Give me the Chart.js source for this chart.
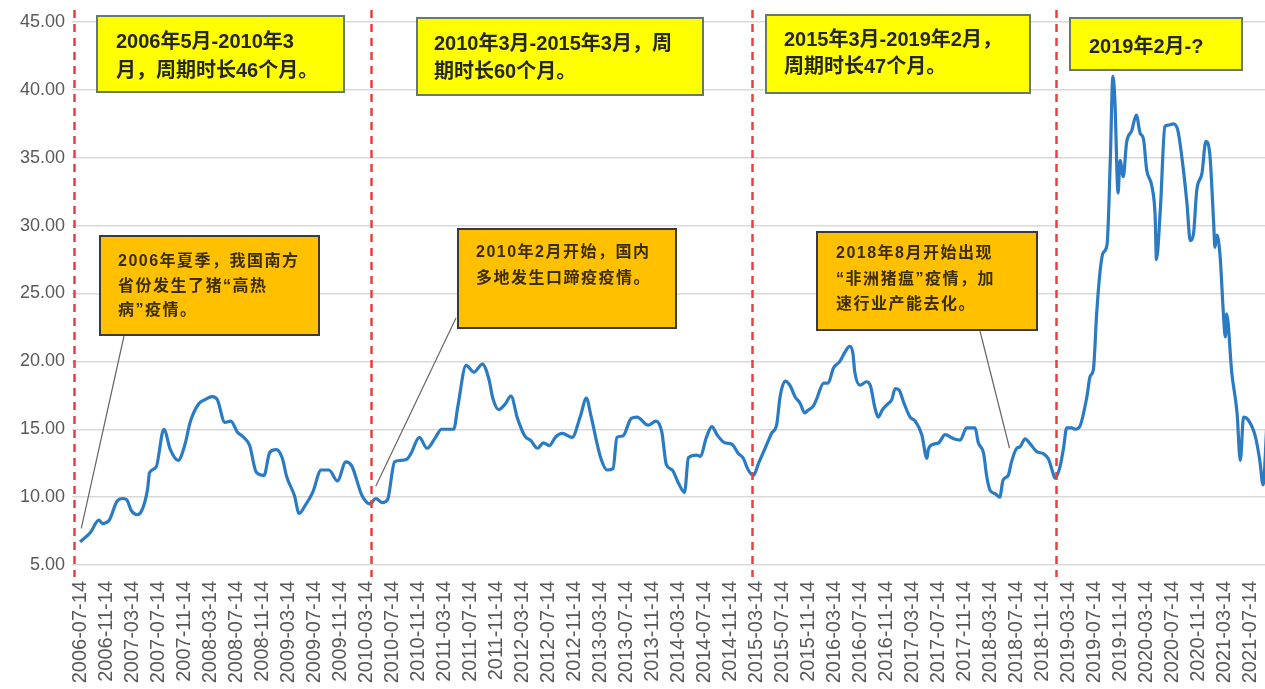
<!DOCTYPE html>
<html>
<head>
<meta charset="utf-8">
<script src="https://cdn.jsdelivr.net/npm/chart.js@4.4.0/dist/chart.umd.min.js"></script>
<style>
  html, body { margin: 0; padding: 0; background: #fff; }
  #wrap { width: 1265px; height: 689px; }
</style>
</head>
<body>
<div id="wrap"><canvas id="myChart" width="1265" height="689"></canvas></div>
<script>
// x axis labels, one every 4 months starting 2006-07
const tickLabels = [
    "2006-07-14", "2006-11-14", "2007-03-14", "2007-07-14", "2007-11-14", "2008-03-14",
    "2008-07-14", "2008-11-14", "2009-03-14", "2009-07-14", "2009-11-14", "2010-03-14",
    "2010-07-14", "2010-11-14", "2011-03-14", "2011-07-14", "2011-11-14", "2012-03-14",
    "2012-07-14", "2012-11-14", "2013-03-14", "2013-07-14", "2013-11-14", "2014-03-14",
    "2014-07-14", "2014-11-14", "2015-03-14", "2015-07-14", "2015-11-14", "2016-03-14",
    "2016-07-14", "2016-11-14", "2017-03-14", "2017-07-14", "2017-11-14", "2018-03-14",
    "2018-07-14", "2018-11-14", "2019-03-14", "2019-07-14", "2019-11-14", "2020-03-14",
    "2020-07-14", "2020-11-14", "2021-03-14", "2021-07-14"
];
const yTicks = [5, 10, 15, 20, 25, 30, 35, 40, 45];

// months counted from 2006-07, prices in yuan/kg
const months1 = [0, 1.6, 2.9, 3.5, 4.5, 5.7, 6.6, 7.2, 7.9, 8.8, 9.5, 10.4, 10.7, 11.7, 12.9, 13.9, 15.1, 16.1, 17.0, 18.3,
    19.3, 20.3, 21.1, 22.3, 23.2, 24.2, 25.2, 26.1, 27.1, 28.3, 29.2, 30.2, 31.1, 31.8, 33.0, 33.7, 34.6, 35.8, 37.1, 38.3,
    39.6, 40.9, 41.8, 43.4, 44.6];
const prices1 = [6.7, 7.4, 8.3, 8.05, 8.3, 9.7, 9.9, 9.8, 9.0, 8.7, 9.0, 10.6, 11.8, 12.2, 15.0, 13.5, 12.7, 13.8, 15.6, 16.9,
    17.2, 17.4, 17.2, 15.5, 15.6, 14.8, 14.4, 13.8, 11.85, 11.6, 13.3, 13.5, 12.9, 11.5, 10.1, 8.8, 9.35, 10.35, 12.0, 12.0,
    11.2, 12.6, 12.3, 10.1, 9.5];

const months2 = [45.5, 46.5, 47.3, 48.4, 49.3, 50.3, 50.9, 52.2, 53.4, 54.7, 55.6, 57.5, 58.1, 59.4, 60.6, 61.9, 62.9, 63.5, 64.4, 65.4,
    66.3, 67.3, 68.5, 69.3, 70.4, 71.3, 72.2, 73.2, 74.2, 75.7, 77.0, 77.9, 78.6, 80.1, 81.1, 82.0, 82.6, 83.5, 84.8, 85.7,
    87.4, 88.6, 89.5, 90.2, 91.1, 92.0, 93.0, 93.6, 94.9, 95.4, 96.4, 97.2, 98.0, 99.2, 100.3, 101.3, 102.0, 102.8, 103.6];
const prices2 = [9.9, 9.6, 9.8, 12.6, 12.7, 12.8, 13.2, 14.4, 13.6, 14.4, 15.0, 15.0, 16.6, 19.7, 19.2, 19.8, 18.7, 17.3, 16.45, 16.85,
    17.45, 15.8, 14.45, 14.2, 13.6, 14.0, 13.8, 14.45, 14.7, 14.4, 16.0, 17.3, 16.0, 12.9, 12.0, 12.1, 14.4, 14.5, 15.8, 15.9,
    15.3, 15.6, 14.8, 12.4, 12.0, 11.1, 10.35, 12.9, 13.1, 13.0, 14.45, 15.2, 14.6, 14.0, 13.9, 13.2, 12.9, 12.0, 11.6];

const months3 = [104.4, 105.4, 106.4, 107.2, 107.7, 108.5, 109.2, 110.0, 110.8, 111.5, 112.0, 112.8, 113.3, 114.4, 115.1, 115.9, 116.9, 117.7, 118.4, 118.9,
    119.2, 120.0, 121.0, 121.6, 122.3, 122.8, 123.4, 124.1, 124.9, 125.4, 126.0, 126.7, 127.7, 128.5, 129.5, 130.3, 130.5, 131.3, 132.1, 133.1,
    134.4, 135.4, 136.4, 137.7, 138.2, 139.0, 139.5, 140.0, 140.8, 141.5, 142.0, 142.8, 143.3, 144.1, 144.6, 145.4, 146.2, 147.2, 148.2, 149.0,
    149.7, 150.0];
const prices3 = [12.5, 13.6, 14.7, 15.4, 17.4, 18.55, 18.25, 17.4, 16.9, 16.2, 16.4, 16.7, 17.2, 18.4, 18.4, 19.5, 20.0, 20.7, 21.1, 20.6,
    19.2, 18.25, 18.5, 18.2, 16.55, 15.9, 16.4, 16.8, 17.2, 18.0, 17.9, 17.0, 15.9, 15.6, 14.6, 12.85, 13.5, 13.9, 14.0, 14.6,
    14.3, 14.2, 15.1, 15.1, 14.0, 13.25, 11.5, 10.5, 10.25, 10.0, 11.25, 11.6, 12.6, 13.6, 13.7, 14.3, 13.9, 13.35, 13.2, 12.8,
    11.75, 11.4];

const months4 = [150.8, 151.3, 151.8, 152.6, 153.1, 153.8, 154.9, 155.4, 155.9, 156.4, 156.9, 157.4, 158.0, 158.5, 158.9, 159.2, 159.7, 160.0, 160.5, 161.0,
    161.8, 162.5, 163.1, 163.6, 164.1, 164.9, 165.4, 165.6, 166.2, 166.9, 167.4, 168.2, 168.9, 169.7, 170.3, 170.8, 171.3, 171.8, 172.6, 173.2,
    173.8, 174.4, 174.6, 174.9, 175.4, 175.9, 176.2, 176.4, 177.2, 178.0, 178.5, 179.0, 179.7, 180.8, 181.5, 182.0, 182.6];
const prices4 = [12.3, 13.6, 15.1, 15.1, 15.0, 15.2, 17.4, 18.9, 19.4, 23.5, 26.5, 28.0, 28.6, 34.8, 41.0, 39.25, 32.4, 34.8, 33.6, 36.1,
    37.0, 38.15, 36.8, 36.4, 34.1, 32.9, 30.7, 27.5, 31.2, 37.3, 37.4, 37.5, 37.0, 34.3, 31.6, 28.9, 29.4, 32.6, 33.85, 36.2,
    35.3, 30.2, 28.4, 29.3, 27.7, 23.5, 21.8, 23.5, 19.1, 16.2, 12.7, 15.9, 15.7, 14.5, 12.7, 10.9, 15.5];

// start of each pig cycle (red dashed lines)
const cycleStarts = [-0.9, 44.8, 103.4, 150.2];

const series = [[months1, prices1], [months2, prices2], [months3, prices3], [months4, prices4]]
    .flatMap(([ms, ps]) => ms.map((m, i) => ({ x: m, y: ps[i] })));

// text boxes: yellow = cycle span, orange = epidemic events
const cycleNotes = [
    { box: [97, 16, 247, 76], lines: ["2006年5月-2010年3", "月，周期时长46个月。"], tx: 116, ty: [42, 71] },
    { box: [417, 18, 286, 77], lines: ["2010年3月-2015年3月，周", "期时长60个月。"], tx: 434, ty: [44, 72] },
    { box: [766, 15, 264, 78], lines: ["2015年3月-2019年2月，", "周期时长47个月。"], tx: 784, ty: [40, 67] },
    { box: [1070, 18, 172, 52], lines: ["2019年2月-?"], tx: 1089, ty: [47] }
];
const eventNotes = [
    { box: [100, 236, 219, 99], lines: ["2006年夏季，我国南方", "省份发生了猪“高热", "病”疫情。"], tx: 118, ty: [262, 287, 311],
      from: [124, 336], to: [0.2, 7.7] },
    { box: [458, 229, 218, 99], lines: ["2010年2月开始，国内", "多地发生口蹄疫疫情。"], tx: 476, ty: [253, 279],
      from: [456, 318], to: [45.5, 10.8] },
    { box: [817, 232, 220, 98], lines: ["2018年8月开始出现", "“非洲猪瘟”疫情，加", "速行业产能去化。"], tx: 836, ty: [254, 280, 305],
      from: [980, 331], to: [143.0, 13.6] }
];

const notesPlugin = {
    id: "notes",
    afterDraw(chart) {
        const ctx = chart.ctx;
        const xs = chart.scales.x;
        const ys = chart.scales.y;
        const area = chart.chartArea;

        ctx.save();
        ctx.strokeStyle = "#e8403f";
        ctx.lineWidth = 2.5;
        ctx.setLineDash([8, 6]);
        cycleStarts.forEach((m) => {
            const x = Math.round(xs.getPixelForValue(m)) + 0.5;
            ctx.beginPath();
            ctx.moveTo(x, area.top - 12);
            ctx.lineTo(x, area.bottom + 12);
            ctx.stroke();
        });
        ctx.setLineDash([]);

        // connector lines from event boxes to the curve
        ctx.strokeStyle = "#666";
        ctx.lineWidth = 1.2;
        eventNotes.forEach((n) => {
            ctx.beginPath();
            ctx.moveTo(n.from[0], n.from[1]);
            ctx.lineTo(xs.getPixelForValue(n.to[0]), ys.getPixelForValue(n.to[1]));
            ctx.stroke();
        });

        ctx.textBaseline = "middle";
        ctx.textAlign = "left";

        cycleNotes.forEach((n) => {
            const [x, y, w, h] = n.box;
            ctx.fillStyle = "#ffff00";
            ctx.fillRect(x, y, w, h);
            ctx.strokeStyle = "#667a6c";
            ctx.lineWidth = 2;
            ctx.strokeRect(x, y, w, h);
            ctx.fillStyle = "#262626";
            ctx.font = 'bold 20px "Liberation Sans", "Noto Sans CJK SC"';
            n.lines.forEach((t, i) => ctx.fillText(t, n.tx, n.ty[i]));
        });

        eventNotes.forEach((n) => {
            const [x, y, w, h] = n.box;
            ctx.fillStyle = "#ffc000";
            ctx.fillRect(x, y, w, h);
            ctx.strokeStyle = "#3a3a3a";
            ctx.lineWidth = 2;
            ctx.strokeRect(x, y, w, h);
            ctx.fillStyle = "#3b2d00";
            ctx.font = 'bold 16px "Liberation Sans", "Noto Sans CJK SC"';
            ctx.letterSpacing = "1.5px";
            n.lines.forEach((t, i) => ctx.fillText(t, n.tx, n.ty[i]));
            ctx.letterSpacing = "0px";
        });
        ctx.restore();
    }
};

var ctx = document.getElementById("myChart");
new Chart(ctx, {
    type: "line",
    data: {
        datasets: [
            {
                label: "生猪价格",
                data: series,
                borderColor: "#2a7bc3",
                borderWidth: 3.2,
                pointRadius: 0,
                fill: false,
                cubicInterpolationMode: "monotone"
            }
        ]
    },
    options: {
        responsive: false,
        animation: false,
        layout: { padding: { top: 22, right: 0, bottom: 0, left: 0 } },
        plugins: {
            legend: { display: false },
            tooltip: { enabled: false }
        },
        scales: {
            x: {
                type: "linear",
                min: -1.23,
                max: 182.3,
                grid: { display: false },
                border: { display: false },
                afterBuildTicks: (s) => {
                    s.ticks = tickLabels.map((t, i) => ({ value: i * 4 }));
                },
                afterFit: (s) => {
                    s.height = 124;
                    s.paddingLeft = 0;
                    s.paddingRight = 0;
                },
                ticks: {
                    autoSkip: false,
                    minRotation: 90,
                    maxRotation: 90,
                    padding: 8,
                    color: "#595959",
                    font: { family: "Liberation Sans", size: 20 },
                    callback: (v) => tickLabels[Math.round(v / 4)]
                }
            },
            y: {
                min: 5,
                max: 45,
                afterBuildTicks: (s) => {
                    s.ticks = yTicks.map((v) => ({ value: v }));
                },
                afterFit: (s) => {
                    s.width = 72;
                    s.paddingTop = 0;
                    s.paddingBottom = 0;
                },
                grid: { color: "#d9d9d9", lineWidth: 1.5, drawTicks: false },
                border: { display: false },
                ticks: {
                    padding: 7,
                    color: "#595959",
                    font: { family: "Liberation Sans", size: 18 },
                    callback: (v) => v.toFixed(2)
                }
            }
        }
    },
    plugins: [notesPlugin]
});
</script>
</body>
</html>
